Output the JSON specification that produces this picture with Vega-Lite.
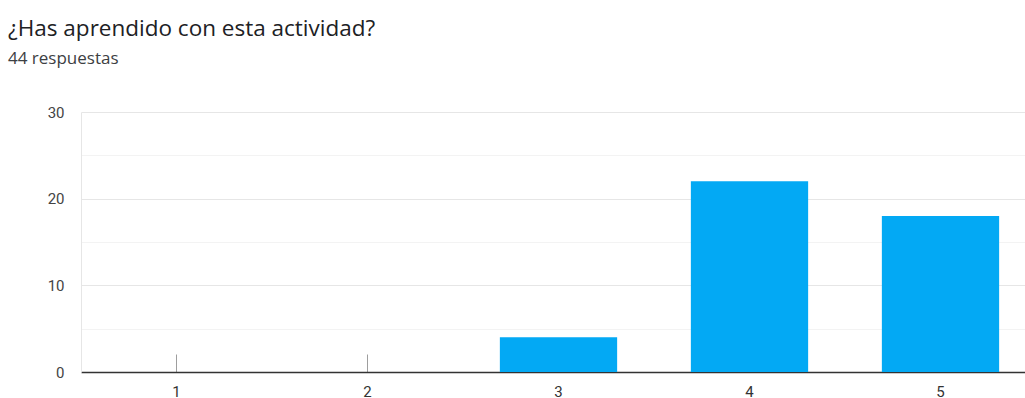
{
  "$schema": "https://vega.github.io/schema/vega-lite/v6.json",
  "autosize": "none",
  "width": 944,
  "height": 260,
  "padding": {"left": 81, "top": 112, "right": 0, "bottom": 26},
  "background": "white",
  "title": {
    "text": "¿Has aprendido con esta actividad?",
    "subtitle": "44 respuestas",
    "anchor": "start",
    "frame": "group",
    "dx": -73,
    "offset": 38,
    "font": "Open Sans",
    "fontSize": 22.5,
    "fontWeight": "normal",
    "color": "#202124",
    "subtitleFont": "Open Sans",
    "subtitleFontSize": 17,
    "subtitleColor": "#3c4043",
    "subtitlePadding": 11
  },
  "data": {
    "values": [
      {"opcion": "1", "respuestas": 0},
      {"opcion": "2", "respuestas": 0},
      {"opcion": "3", "respuestas": 4},
      {"opcion": "4", "respuestas": 22},
      {"opcion": "5", "respuestas": 18}
    ]
  },
  "mark": {"type": "bar", "color": "#03a9f4"},
  "encoding": {
    "x": {
      "field": "opcion",
      "type": "ordinal",
      "sort": null,
      "scale": {"range": [0, 955], "paddingInner": 0.386, "paddingOuter": 0.193},
      "axis": {
        "title": null,
        "labelAngle": 0,
        "labelFont": "Roboto",
        "labelFontSize": 15,
        "labelColor": "#333333",
        "labelPadding": 30,
        "domainColor": "#333333",
        "domainWidth": 1.5,
        "tickSize": -18,
        "tickColor": "#9e9e9e",
        "tickWidth": 1,
        "zindex": 0,
        "grid": false
      }
    },
    "y": {
      "field": "respuestas",
      "type": "quantitative",
      "scale": {"domain": [0, 30], "nice": false},
      "axis": {
        "title": null,
        "values": [0, 5, 10, 15, 20, 25, 30],
        "labelExpr": "datum.value % 10 === 0 ? datum.label : ''",
        "labelFont": "Roboto",
        "labelFontSize": 15,
        "labelColor": "#444444",
        "labelPadding": 17,
        "ticks": false,
        "domainColor": "#e6e6e6",
        "gridColor": {"condition": {"test": "datum.value % 10 === 0", "value": "#e6e6e6"}, "value": "#f3f3f3"},
        "grid": true
      }
    }
  },
  "config": {"view": {"stroke": null}}
}
